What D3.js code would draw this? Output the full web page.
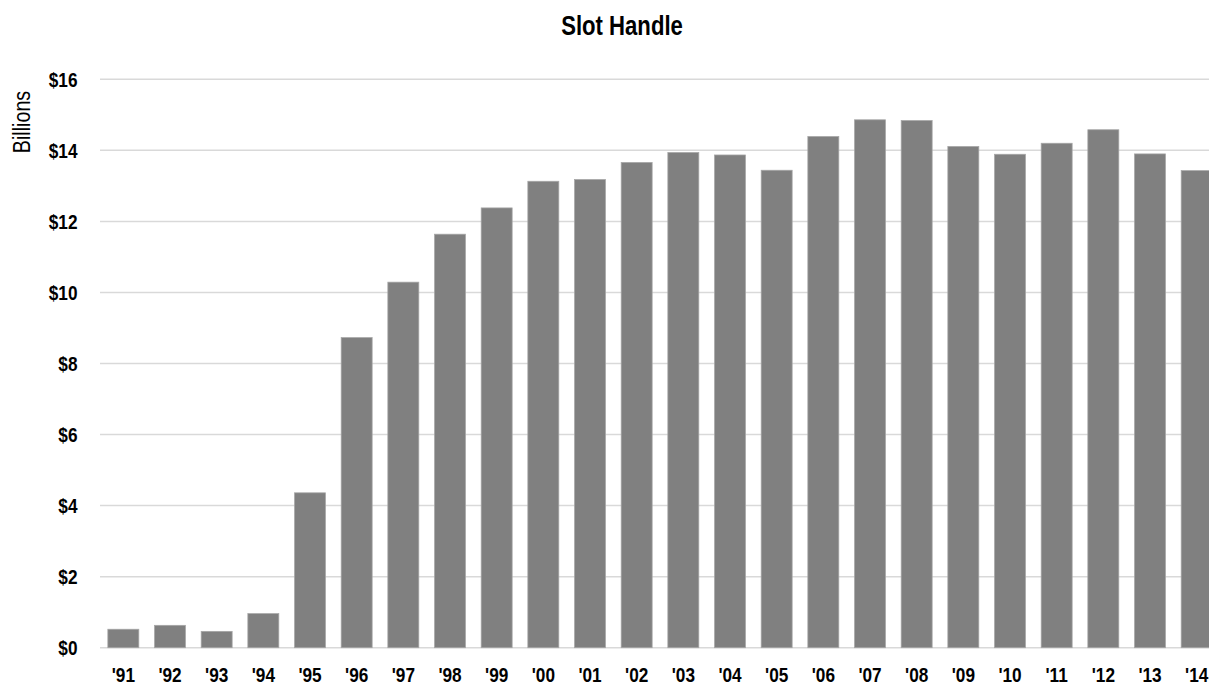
<!DOCTYPE html>
<html>
<head>
<meta charset="utf-8">
<script src="https://cdn.jsdelivr.net/npm/d3@7/dist/d3.min.js"></script>
<style>
  html, body { margin: 0; padding: 0; background: #fff; }
  svg { display: block; }
  text { font-family: "Liberation Sans", Arial, sans-serif; fill: #000; }
</style>
</head>
<body>
<svg id="chart" width="1209" height="688"></svg>
<script>
const categories = ["'91","'92","'93","'94","'95","'96","'97","'98","'99","'00","'01","'02","'03","'04","'05","'06","'07","'08","'09","'10","'11","'12","'13","'14"];
const values = [0.52, 0.63, 0.46, 0.96, 4.36, 8.73, 10.29, 11.64, 12.38, 13.13, 13.18, 13.66, 13.94, 13.87, 13.44, 14.39, 14.86, 14.84, 14.11, 13.89, 14.20, 14.58, 13.90, 13.43];
const yTicks = [0, 2, 4, 6, 8, 10, 12, 14, 16];
const title = "Slot Handle";
const yAxisTitle = "Billions";

(function () {
const svg = d3.select("#chart");
const W = 1209, H = 688;
const pLeft = 100, pRight = 1220, pTop = 79.3, pBottom = 647.7;
const narrow = "scale(0.82,1)";

const x = d3.scaleBand().domain(categories).range([pLeft, pRight]).paddingInner(0.336).paddingOuter(0.168);
const y = d3.scaleLinear().domain([0, 16]).range([pBottom, pTop]);

// gridlines
svg.append("g").selectAll("line").data(yTicks).join("line")
  .attr("x1", pLeft).attr("x2", W)
  .attr("y1", d => y(d)).attr("y2", d => y(d))
  .attr("stroke", "#d9d9d9").attr("stroke-width", 1.5);

// bars
svg.append("g").selectAll("rect").data(values).join("rect")
  .attr("x", (d, i) => x(categories[i]))
  .attr("y", d => y(d))
  .attr("width", x.bandwidth())
  .attr("height", d => y(0) - y(d))
  .attr("fill", "#808080")
  .attr("stroke", "#a6a6a6").attr("stroke-width", 0.75);

// y axis labels
const yAxis = d3.axisLeft(y).tickValues(yTicks).tickFormat(d => "$" + d).tickSize(0).tickPadding(0);
const gy = svg.append("g").attr("transform", `translate(${77.5},0)`).call(yAxis);
gy.select(".domain").remove();
gy.selectAll("text").attr("font-size", 21).attr("font-weight", "bold")
  .attr("transform", narrow).attr("dy", "0.34em")
  .style("font-family", '"Liberation Sans", Arial, sans-serif').attr("fill", "#000");

// x axis labels
const xAxis = d3.axisBottom(x).tickSize(0).tickPadding(0);
const gx = svg.append("g").attr("transform", `translate(0,${682})`).call(xAxis);
gx.select(".domain").remove();
gx.selectAll("text").attr("font-size", 21).attr("font-weight", "bold")
  .attr("transform", narrow).attr("dy", 0).attr("y", 0)
  .style("font-family", '"Liberation Sans", Arial, sans-serif').attr("fill", "#000");

// title
svg.append("g").attr("transform", "translate(622,35)")
  .append("text").attr("text-anchor", "middle").attr("transform", narrow)
  .attr("font-size", 27).attr("font-weight", "bold").text(title);

// y axis title
svg.append("g").attr("transform", "translate(30,122) rotate(-90)")
  .append("text").attr("text-anchor", "middle").attr("transform", narrow)
  .attr("font-size", 24).text(yAxisTitle);
})();
</script>
</body>
</html>
